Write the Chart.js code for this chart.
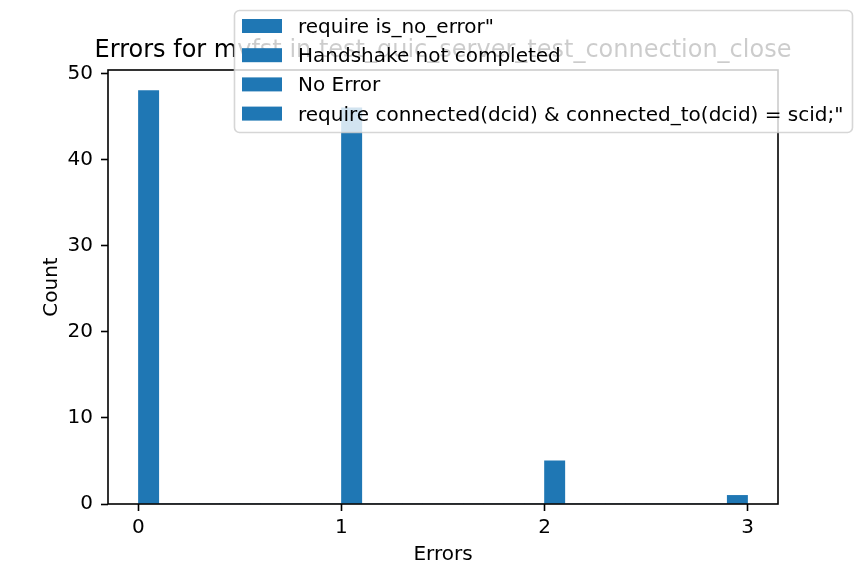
<!DOCTYPE html>
<html>
<head>
<meta charset="utf-8">
<script src="https://cdn.jsdelivr.net/npm/chart.js@4"></script>
<style>
  html, body { margin: 0; padding: 0; background: #fff; }
  #wrap { width: 864px; height: 576px; }
</style>
</head>
<body>
<div id="wrap"><canvas id="c" width="864" height="576"></canvas></div>
<script>
// ---- data ----
const chartTitle = "Errors for mvfst in test_quic_server_test_connection_close";
const xLabel = "Errors";
const yLabel = "Count";
// histogram bin centers (bin width 0.1 over 0..3)
const binCenters = [0.05, 0.15, 0.25, 0.35, 0.45, 0.55, 0.65, 0.75, 0.85, 0.95,
                    1.05, 1.15, 1.25, 1.35, 1.45, 1.55, 1.65, 1.75, 1.85, 1.95,
                    2.05, 2.15, 2.25, 2.35, 2.45, 2.55, 2.65, 2.75, 2.85, 2.95];
const binCounts  = [48, 0, 0, 0, 0, 0, 0, 0, 0, 0,
                    46, 0, 0, 0, 0, 0, 0, 0, 0, 0,
                    5, 0, 0, 0, 0, 0, 0, 0, 0, 1];
const xTicks = [0, 1, 2, 3];
const yTicks = [0, 10, 20, 30, 40, 50];
const legendLabels = [
  'require is_no_error"',
  'Handshake not completed',
  'No Error',
  'require connected(dcid) & connected_to(dcid) = scid;"'
];

const BLUE = '#1f77b4';
const FONT = "'DejaVu Sans', sans-serif";

const overlay = {
  id: 'overlay',
  afterDraw(chart) {
    const ctx = chart.ctx;
    const a = chart.chartArea;
    ctx.save();
    // spines
    ctx.strokeStyle = '#000';
    ctx.lineWidth = 1.6;
    ctx.strokeRect(a.left, a.top, a.right - a.left, a.bottom - a.top);

    ctx.fillStyle = '#000';
    // x label
    ctx.font = '20px ' + FONT;
    ctx.textAlign = 'center';
    ctx.textBaseline = 'alphabetic';
    ctx.fillText(xLabel, (a.left + a.right) / 2, 560);
    // y label
    ctx.save();
    ctx.translate(57, (a.top + a.bottom) / 2);
    ctx.rotate(-Math.PI / 2);
    ctx.fillText(yLabel, 0, 0);
    ctx.restore();
    // title
    ctx.font = '24px ' + FONT;
    ctx.fillText(chartTitle, (a.left + a.right) / 2, 56.5);

    // legend
    const lx = 234.5, ly = 10.5, lw = 618, lh = 122, r = 5;
    ctx.beginPath();
    ctx.moveTo(lx + r, ly);
    ctx.lineTo(lx + lw - r, ly);
    ctx.arcTo(lx + lw, ly, lx + lw, ly + r, r);
    ctx.lineTo(lx + lw, ly + lh - r);
    ctx.arcTo(lx + lw, ly + lh, lx + lw - r, ly + lh, r);
    ctx.lineTo(lx + r, ly + lh);
    ctx.arcTo(lx, ly + lh, lx, ly + lh - r, r);
    ctx.lineTo(lx, ly + r);
    ctx.arcTo(lx, ly, lx + r, ly, r);
    ctx.closePath();
    ctx.fillStyle = 'rgba(255,255,255,0.8)';
    ctx.fill();
    ctx.strokeStyle = 'rgba(204,204,204,0.8)';
    ctx.lineWidth = 1.6;
    ctx.stroke();

    ctx.font = '20px ' + FONT;
    ctx.textAlign = 'left';
    ctx.textBaseline = 'alphabetic';
    legendLabels.forEach((lab, i) => {
      const cy = 26 + i * 29.2;
      ctx.fillStyle = BLUE;
      ctx.fillRect(242, cy - 7, 40, 14);
      ctx.fillStyle = '#000';
      ctx.fillText(lab, 298, cy + 7);
    });
    ctx.restore();
  }
};

new Chart(document.getElementById('c'), {
  type: 'bar',
  data: {
    datasets: [{
      label: 'Errors',
      data: binCenters.map((x, i) => ({ x: x, y: binCounts[i] })),
      backgroundColor: BLUE,
      borderWidth: 0,
      barPercentage: 1.0,
      categoryPercentage: 1.0
    }]
  },
  options: {
    responsive: false,
    animation: false,
    devicePixelRatio: 1,
    layout: { padding: { top: 70, right: 86, left: 0, bottom: 0 } },
    plugins: { legend: { display: false }, tooltip: { enabled: false }, title: { display: false } },
    scales: {
      x: {
        type: 'linear',
        offset: false,
        min: -0.15,
        max: 3.15,
        afterBuildTicks: s => { s.ticks = xTicks.map(v => ({ value: v })); },
        afterFit: s => { s.height = 72; },
        grid: { display: true, offset: false, drawOnChartArea: false, drawTicks: true, tickLength: 7, tickWidth: 1.6, tickColor: '#000' },
        border: { display: false },
        ticks: { padding: 5, color: '#000', font: { family: FONT, size: 20 }, maxRotation: 0 }
      },
      y: {
        type: 'linear',
        min: 0,
        max: 50.4,
        afterBuildTicks: s => { s.ticks = yTicks.map(v => ({ value: v })); },
        afterFit: s => { s.width = 108; },
        grid: { display: true, drawOnChartArea: false, drawTicks: true, tickLength: 7, tickWidth: 1.6, tickColor: '#000' },
        border: { display: false },
        ticks: { padding: 8, color: '#000', font: { family: FONT, size: 20 } }
      }
    }
  },
  plugins: [overlay]
});
</script>
</body>
</html>
